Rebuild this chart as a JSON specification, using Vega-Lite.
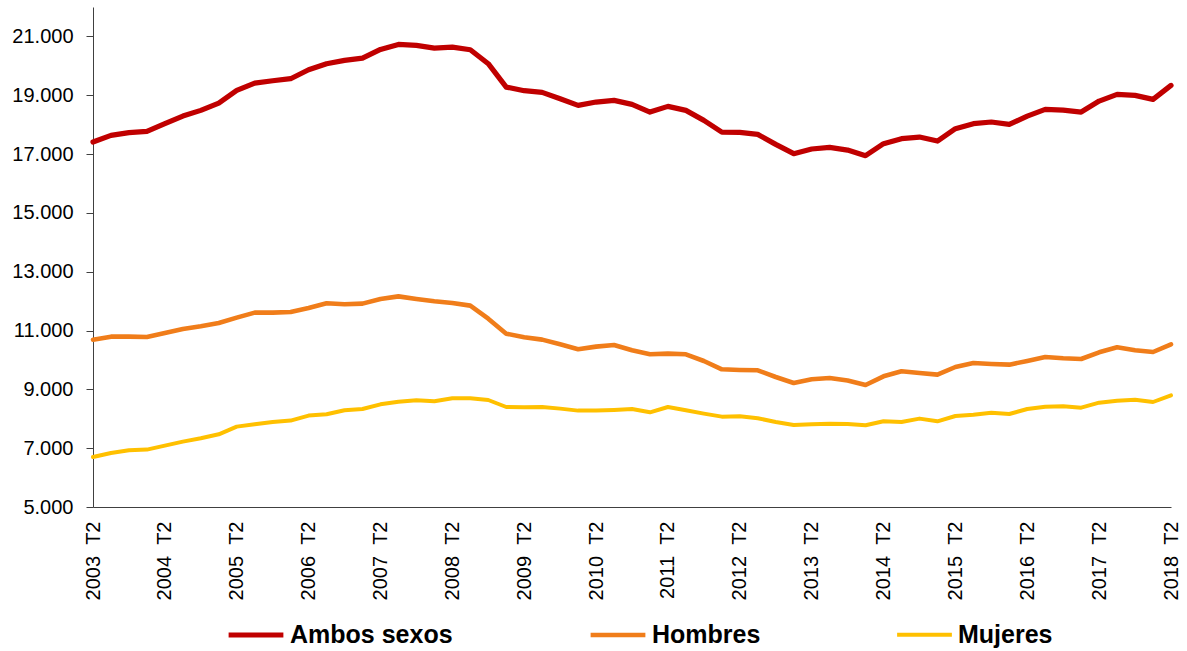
{
  "$schema": "https://vega.github.io/schema/vega-lite/v6.json",
  "autosize": {"type": "none"},
  "padding": {"left": 93, "top": 7, "right": 16, "bottom": 144},
  "width": 1078,
  "height": 500,
  "background": "white",
  "config": {
    "view": {"stroke": null},
    "font": "Liberation Sans"
  },
  "data": {
    "values": [
      {"periodo": "2003 T2", "Ambos sexos": 17410, "Hombres": 10690, "Mujeres": 6700},
      {"periodo": "2003 T3", "Ambos sexos": 17635, "Hombres": 10792, "Mujeres": 6836},
      {"periodo": "2003 T4", "Ambos sexos": 17727, "Hombres": 10792, "Mujeres": 6928},
      {"periodo": "2004 T1", "Ambos sexos": 17771, "Hombres": 10781, "Mujeres": 6951},
      {"periodo": "2004 T2", "Ambos sexos": 18033, "Hombres": 10917, "Mujeres": 7087},
      {"periodo": "2004 T3", "Ambos sexos": 18291, "Hombres": 11053, "Mujeres": 7223},
      {"periodo": "2004 T4", "Ambos sexos": 18485, "Hombres": 11143, "Mujeres": 7336},
      {"periodo": "2005 T1", "Ambos sexos": 18734, "Hombres": 11256, "Mujeres": 7472},
      {"periodo": "2005 T2", "Ambos sexos": 19165, "Hombres": 11438, "Mujeres": 7733},
      {"periodo": "2005 T3", "Ambos sexos": 19413, "Hombres": 11608, "Mujeres": 7812},
      {"periodo": "2005 T4", "Ambos sexos": 19494, "Hombres": 11608, "Mujeres": 7891},
      {"periodo": "2006 T1", "Ambos sexos": 19562, "Hombres": 11630, "Mujeres": 7937},
      {"periodo": "2006 T2", "Ambos sexos": 19868, "Hombres": 11766, "Mujeres": 8107},
      {"periodo": "2006 T3", "Ambos sexos": 20072, "Hombres": 11925, "Mujeres": 8151},
      {"periodo": "2006 T4", "Ambos sexos": 20184, "Hombres": 11891, "Mujeres": 8287},
      {"periodo": "2007 T1", "Ambos sexos": 20262, "Hombres": 11914, "Mujeres": 8332},
      {"periodo": "2007 T2", "Ambos sexos": 20558, "Hombres": 12071, "Mujeres": 8491},
      {"periodo": "2007 T3", "Ambos sexos": 20728, "Hombres": 12162, "Mujeres": 8582},
      {"periodo": "2007 T4", "Ambos sexos": 20694, "Hombres": 12071, "Mujeres": 8627},
      {"periodo": "2008 T1", "Ambos sexos": 20602, "Hombres": 11993, "Mujeres": 8593},
      {"periodo": "2008 T2", "Ambos sexos": 20636, "Hombres": 11936, "Mujeres": 8695},
      {"periodo": "2008 T3", "Ambos sexos": 20548, "Hombres": 11846, "Mujeres": 8695},
      {"periodo": "2008 T4", "Ambos sexos": 20072, "Hombres": 11404, "Mujeres": 8638},
      {"periodo": "2009 T1", "Ambos sexos": 19277, "Hombres": 10894, "Mujeres": 8400},
      {"periodo": "2009 T2", "Ambos sexos": 19154, "Hombres": 10769, "Mujeres": 8389},
      {"periodo": "2009 T3", "Ambos sexos": 19097, "Hombres": 10690, "Mujeres": 8400},
      {"periodo": "2009 T4", "Ambos sexos": 18882, "Hombres": 10531, "Mujeres": 8345},
      {"periodo": "2010 T1", "Ambos sexos": 18655, "Hombres": 10361, "Mujeres": 8277},
      {"periodo": "2010 T2", "Ambos sexos": 18768, "Hombres": 10452, "Mujeres": 8277},
      {"periodo": "2010 T3", "Ambos sexos": 18825, "Hombres": 10508, "Mujeres": 8300},
      {"periodo": "2010 T4", "Ambos sexos": 18689, "Hombres": 10327, "Mujeres": 8332},
      {"periodo": "2011 T1", "Ambos sexos": 18428, "Hombres": 10191, "Mujeres": 8220},
      {"periodo": "2011 T2", "Ambos sexos": 18621, "Hombres": 10214, "Mujeres": 8400},
      {"periodo": "2011 T3", "Ambos sexos": 18485, "Hombres": 10191, "Mujeres": 8287},
      {"periodo": "2011 T4", "Ambos sexos": 18145, "Hombres": 9965, "Mujeres": 8174},
      {"periodo": "2012 T1", "Ambos sexos": 17748, "Hombres": 9681, "Mujeres": 8072},
      {"periodo": "2012 T2", "Ambos sexos": 17737, "Hombres": 9659, "Mujeres": 8083},
      {"periodo": "2012 T3", "Ambos sexos": 17669, "Hombres": 9647, "Mujeres": 8016},
      {"periodo": "2012 T4", "Ambos sexos": 17329, "Hombres": 9420, "Mujeres": 7891},
      {"periodo": "2013 T1", "Ambos sexos": 17013, "Hombres": 9216, "Mujeres": 7789},
      {"periodo": "2013 T2", "Ambos sexos": 17171, "Hombres": 9341, "Mujeres": 7812},
      {"periodo": "2013 T3", "Ambos sexos": 17227, "Hombres": 9386, "Mujeres": 7834},
      {"periodo": "2013 T4", "Ambos sexos": 17135, "Hombres": 9300, "Mujeres": 7818},
      {"periodo": "2014 T1", "Ambos sexos": 16945, "Hombres": 9148, "Mujeres": 7778},
      {"periodo": "2014 T2", "Ambos sexos": 17352, "Hombres": 9443, "Mujeres": 7914},
      {"periodo": "2014 T3", "Ambos sexos": 17522, "Hombres": 9613, "Mujeres": 7891},
      {"periodo": "2014 T4", "Ambos sexos": 17578, "Hombres": 9556, "Mujeres": 8005},
      {"periodo": "2015 T1", "Ambos sexos": 17442, "Hombres": 9500, "Mujeres": 7914},
      {"periodo": "2015 T2", "Ambos sexos": 17863, "Hombres": 9760, "Mujeres": 8094},
      {"periodo": "2015 T3", "Ambos sexos": 18033, "Hombres": 9896, "Mujeres": 8140},
      {"periodo": "2015 T4", "Ambos sexos": 18090, "Hombres": 9862, "Mujeres": 8208},
      {"periodo": "2016 T1", "Ambos sexos": 18009, "Hombres": 9840, "Mujeres": 8162},
      {"periodo": "2016 T2", "Ambos sexos": 18291, "Hombres": 9965, "Mujeres": 8332},
      {"periodo": "2016 T3", "Ambos sexos": 18519, "Hombres": 10099, "Mujeres": 8412},
      {"periodo": "2016 T4", "Ambos sexos": 18495, "Hombres": 10055, "Mujeres": 8423},
      {"periodo": "2017 T1", "Ambos sexos": 18428, "Hombres": 10033, "Mujeres": 8378},
      {"periodo": "2017 T2", "Ambos sexos": 18801, "Hombres": 10259, "Mujeres": 8548},
      {"periodo": "2017 T3", "Ambos sexos": 19029, "Hombres": 10429, "Mujeres": 8616},
      {"periodo": "2017 T4", "Ambos sexos": 18995, "Hombres": 10327, "Mujeres": 8650},
      {"periodo": "2018 T1", "Ambos sexos": 18859, "Hombres": 10270, "Mujeres": 8570},
      {"periodo": "2018 T2", "Ambos sexos": 19335, "Hombres": 10531, "Mujeres": 8797}
    ]
  },
  "transform": [
    {"fold": ["Ambos sexos", "Hombres", "Mujeres"], "as": ["serie", "valor"]}
  ],
  "mark": {"type": "line", "strokeCap": "round", "strokeJoin": "round"},
  "encoding": {
    "x": {
      "field": "periodo",
      "type": "ordinal",
      "sort": null,
      "scale": {"type": "point", "padding": 0},
      "axis": {
        "title": null,
        "values": ["2003 T2", "2004 T2", "2005 T2", "2006 T2", "2007 T2", "2008 T2", "2009 T2", "2010 T2", "2011 T2", "2012 T2", "2013 T2", "2014 T2", "2015 T2", "2016 T2", "2017 T2", "2018 T2"],
        "labelExpr": "replace(datum.value, ' ', '\u00a0\u00a0')",
        "labelAngle": 270,
        "labelFontSize": 20,
        "labelColor": "#000000",
        "labelPadding": 14,
        "ticks": false,
        "domainColor": "#404040",
        "domainWidth": 1,
        "grid": false
      }
    },
    "y": {
      "field": "valor",
      "type": "quantitative",
      "scale": {"domain": [5000, 22000], "nice": false, "zero": false},
      "axis": {
        "title": null,
        "values": [5000, 7000, 9000, 11000, 13000, 15000, 17000, 19000, 21000],
        "labelExpr": "replace(format(datum.value, ','), ',', '.')",
        "labelFontSize": 20,
        "labelColor": "#000000",
        "labelPadding": 13,
        "tickSize": 7,
        "tickColor": "#404040",
        "domainColor": "#404040",
        "grid": false
      }
    },
    "color": {
      "field": "serie",
      "type": "nominal",
      "scale": {"domain": ["Ambos sexos", "Hombres", "Mujeres"], "range": ["#C00000", "#F07D1A", "#FFC000"]},
      "legend": {
        "title": null,
        "orient": "none",
        "legendX": 133,
        "legendY": 598,
        "direction": "horizontal",
        "symbolType": "stroke",
        "symbolSize": 3000,
        "symbolStrokeWidth": 5,
        "labelFontSize": 25,
        "labelFontWeight": "bold",
        "labelColor": "#000000",
        "labelLimit": 300,
        "labelOffset": 4,
        "columnPadding": 128,
        "padding": 0
      }
    },
    "strokeWidth": {
      "field": "serie",
      "type": "nominal",
      "scale": {"domain": ["Ambos sexos", "Hombres", "Mujeres"], "range": [5.2, 4, 4]},
      "legend": null
    }
  }
}
